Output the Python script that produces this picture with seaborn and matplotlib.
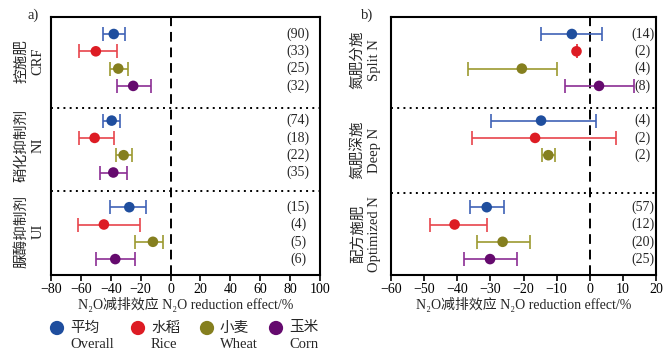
import numpy as np
import pandas as pd
import seaborn as sns
import matplotlib
matplotlib.use("Agg")
import matplotlib.pyplot as plt

# ---------------- data ----------------
crops = ["Overall", "Rice", "Wheat", "Corn"]
crops_cn = ["平均", "水稻", "小麦", "玉米"]

a_groups = ["控施肥\nCRF", "硝化抑制剂\nNI", "脲酶抑制剂\nUI"]
a_group_idx = [0, 0, 0, 0, 1, 1, 1, 1, 2, 2, 2, 2]
a_crop = ["Overall", "Rice", "Wheat", "Corn"] * 3
a_mean = [-38.0, -50.0, -35.0, -25.0, -39.4, -50.8, -31.4, -38.3, -27.6, -44.6, -11.8, -37.0]
a_low = [-45.0, -61.5, -40.8, -35.7, -45.0, -61.5, -36.8, -47.5, -40.6, -62.2, -23.8, -49.7]
a_high = [-30.3, -36.0, -28.3, -13.3, -33.9, -38.1, -26.0, -29.2, -16.5, -20.3, -5.3, -23.8]
a_n = [90, 33, 25, 32, 74, 18, 22, 35, 15, 4, 5, 6]

b_groups = ["氮肥分施\nSplit N", "氮肥深施\nDeep N", "配方施肥\nOptimized N"]
b_group_idx = [0, 0, 0, 0, 1, 1, 1, 2, 2, 2, 2]
b_crop = ["Overall", "Rice", "Wheat", "Corn", "Overall", "Rice", "Wheat",
          "Overall", "Rice", "Wheat", "Corn"]
b_mean = [-5.4, -4.0, -20.5, 2.8, -14.7, -16.5, -12.5, -31.1, -40.8, -26.3, -30.1]
b_low = [-14.7, -4.0, -36.7, -7.4, -29.9, -35.4, -14.5, -36.2, -48.2, -34.1, -37.9]
b_high = [3.7, -4.0, -9.9, 13.4, 1.9, 8.0, -10.5, -26.0, -31.1, -18.1, -22.0]
b_n = [14, 2, 4, 8, 4, 2, 2, 57, 12, 20, 25]

x_label = "N₂O减排效应 N₂O reduction effect/%"

# ---------------- style ----------------
sns.set_style("ticks")
plt.rcParams["font.family"] = ["Liberation Serif", "Noto Sans CJK SC", "DejaVu Serif"]
plt.rcParams["font.size"] = 10
plt.rcParams["axes.unicode_minus"] = True

dot_col = {"Overall": "#1F4E9E", "Rice": "#DD1C24", "Wheat": "#857F1F", "Corn": "#650A6E"}
bar_col = {"Overall": "#3F62B6", "Rice": "#E8444C", "Wheat": "#9C9A30", "Corn": "#8B2E93"}

W, H = 672, 358
fig = plt.figure(figsize=(W / 100, H / 100), dpi=100)

ROW0, GROUP_STEP, ROW_STEP = 17.0, 86.6, 17.3
AX_H = 258.0


def make_df(group_idx, crop, mean, low, high, n):
    df = pd.DataFrame({"g": group_idx, "crop": crop, "mean": mean,
                       "low": low, "high": high, "n": n})
    df["r"] = df.groupby("g").cumcount()
    df["pos"] = ROW0 + df["g"] * GROUP_STEP + df["r"] * ROW_STEP
    return df


def draw_panel(ax, df, groups, xlim, xticks, seps, label_y, count_x, label_fx, letter, letter_fx):
    for _, row in df.iterrows():
        ax.errorbar(row["mean"], row["pos"],
                    xerr=[[row["mean"] - row["low"]], [row["high"] - row["mean"]]],
                    fmt="none", ecolor=bar_col[row["crop"]], elinewidth=1.2,
                    capsize=5, capthick=1.2, zorder=2)
        ax.text(count_x, row["pos"], f"({row['n']})", ha="center", va="center", fontsize=10)
    sns.scatterplot(data=df, x="mean", y="pos", hue="crop", palette=dot_col,
                    hue_order=crops, s=58, edgecolor="none", legend=False, ax=ax, zorder=3)
    ax.axvline(0, color="black", lw=1.4, ls=(0, (5, 3)), zorder=1)
    for s in seps:
        ax.axhline(s, color="black", lw=1.4, ls=(0, (1, 2.2)), zorder=1)
    ax.set_xlim(*xlim)
    ax.set_xticks(xticks)
    ax.set_ylim(AX_H, 0)
    ax.set_yticks([])
    ax.set_ylabel("")
    ax.set_xlabel(x_label, fontsize=10, labelpad=1)
    for sp in ax.spines.values():
        sp.set_visible(True)
        sp.set_linewidth(1.5)
        sp.set_color("black")
    ax.tick_params(axis="x", direction="out", length=4, width=1.2, labelsize=10, pad=1.5, colors="black")
    for gname, gy in zip(groups, label_y):
        fy = 1 - (17 + gy) / H
        fig.text(label_fx, fy, gname, rotation=90, ha="center", va="center",
                 multialignment="center", fontsize=10.5, linespacing=1.35)
    fig.text(letter_fx, 1 - 15 / H, letter, ha="center", va="center", fontsize=10.5)


ax_a = fig.add_axes([51 / W, 1 - 275 / H, 269 / W, 258 / H])
ax_b = fig.add_axes([391 / W, 1 - 275 / H, 265 / W, 258 / H])

df_a = make_df(a_group_idx, a_crop, a_mean, a_low, a_high, a_n)
df_b = make_df(b_group_idx, b_crop, b_mean, b_low, b_high, b_n)

draw_panel(ax_a, df_a, a_groups, (-80, 100), np.arange(-80, 101, 20), [91.3, 174.0],
           [44, 128, 214], 85.5, 30 / W, "a)", 33 / W)
draw_panel(ax_b, df_b, b_groups, (-60, 20), np.arange(-60, 21, 10), [91.3, 176.0],
           [43, 133, 217], 16.0, 366 / W, "b)", 367 / W)

# ---------------- legend (drawn in a hidden pixel-space axes) ----------------
leg_ax = fig.add_axes([0, 0, 1, 1], zorder=-1)
leg_ax.set_xlim(0, W)
leg_ax.set_ylim(H, 0)
leg_ax.axis("off")
leg_x = [57, 138, 207, 276]
leg_df = pd.DataFrame({"crop": crops, "x": leg_x, "y": [328] * 4})
sns.scatterplot(data=leg_df, x="x", y="y", hue="crop", palette=dot_col, hue_order=crops,
                s=105, edgecolor="none", legend=False, ax=leg_ax)
leg_ax.axis("off")
for cx, cn, en in zip(leg_x, crops_cn, crops):
    leg_ax.text(cx + 13, 328, cn, ha="left", va="center", fontsize=10.5)
    leg_ax.text(cx + 13, 344.5, en, ha="left", va="center", fontsize=10.5)

fig.savefig("out.png", dpi=100)
